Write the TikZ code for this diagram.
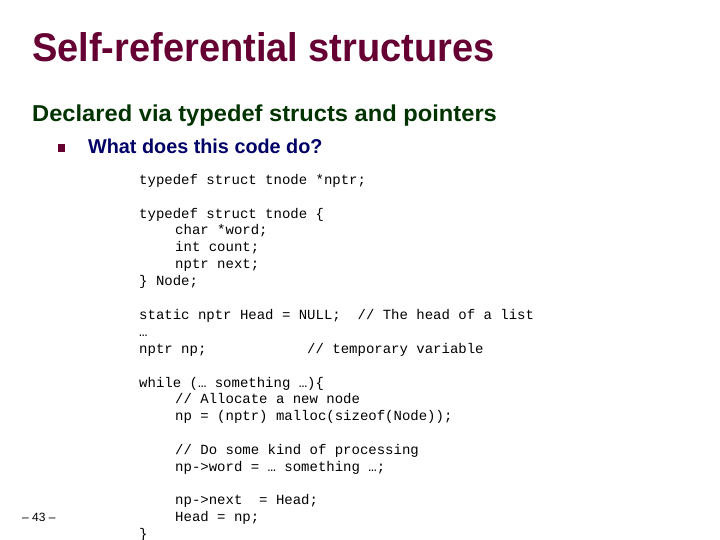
\documentclass[tikz,border=0pt]{standalone}
\usepackage{fontspec}
\setmainfont{Liberation Sans}
\newfontfamily\codefont{Liberation Mono}
\definecolor{ttl}{HTML}{660033}
\definecolor{sub}{HTML}{003300}
\definecolor{blt}{HTML}{000066}
\begin{document}
\begin{tikzpicture}[x=1bp,y=-1bp,
  code/.style={anchor=base west,inner sep=0,font=\codefont\fontsize{14bp}{15bp}\selectfont},
  plain/.style={anchor=base west,inner sep=0}]
\useasboundingbox (0,0) rectangle (720,540);
\node[plain,text=ttl] (title) at (32,62) {\scalebox{0.95}[1]{\fontsize{40bp}{44bp}\selectfont\bfseries Self-referential structures}};
\node[plain,text=sub] (subt) at (32,122) {\scalebox{1.03}[1]{\fontsize{23bp}{26bp}\selectfont\bfseries Declared via typedef structs and pointers}};
\fill[ttl] (58,144) rectangle (65,152);
\node[plain,text=blt] (bul) at (88,154) {\scalebox{0.99}[1]{\fontsize{20bp}{22bp}\selectfont\bfseries What does this code do?}};
\node[code] (l1) at (139,185) {typedef struct tnode *nptr;};
\node[code] (l2) at (139,219) {typedef struct tnode \{};
\node[code] (l3) at (175,235) {char *word;};
\node[code] (l4) at (175,252) {int count;};
\node[code] (l5) at (175,269) {nptr next;};
\node[code] (l6) at (139,286) {\} Node;};
\node[code] (l7) at (139,319) {static nptr Head = NULL;~~// The head of a list};
\node[code] (l8) at (139,336) {…};
\node[code] (l9) at (139,353) {nptr np;~~~~~~~~~~~~// temporary variable};
\node[code] (l10) at (139,387) {while (… something …)\{};
\node[code] (l11) at (175,403) {// Allocate a new node};
\node[code] (l12) at (175,420) {np = (nptr) malloc(sizeof(Node));};
\node[code] (l13) at (175,454) {// Do some kind of processing};
\node[code] (l14) at (175,471) {np->word = … something …;};
\node[code] (l15) at (175,504) {np->next~~= Head;};
\node[code] (l16) at (175,521) {Head = np;};
\node[code] (l17) at (139,538) {\}};
\node[plain] (pg) at (22,521) {\fontsize{12bp}{14bp}\selectfont – 43 –};
\end{tikzpicture}
\end{document}
